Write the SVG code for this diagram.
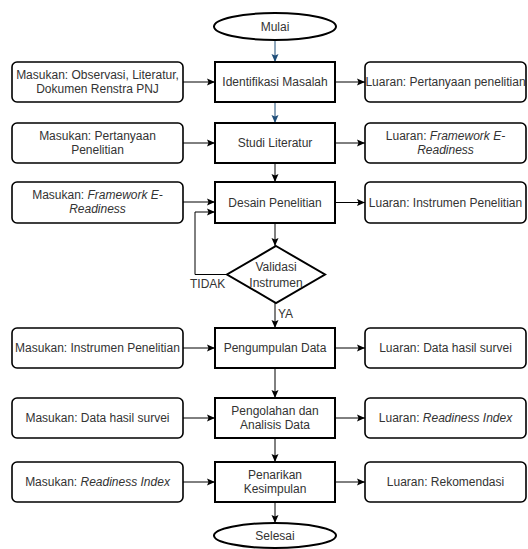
<svg xmlns="http://www.w3.org/2000/svg" width="528" height="549" viewBox="0 0 528 549">
<style>
text{font-family:"Liberation Sans",Arial,sans-serif;font-size:12px;fill:#333;text-anchor:middle}
.it{font-style:italic}
.proc{fill:#fff;stroke:#000;stroke-width:2}
.io{fill:#fff;stroke:#000;stroke-width:1.6}
.term{fill:#fff;stroke:#000;stroke-width:2}
.c{fill:none;stroke:#000;stroke-width:1}
.cb{fill:none;stroke:#1f4e79;stroke-width:1}
.lbl{text-anchor:start}
</style>
<defs>
<marker id="a" markerUnits="userSpaceOnUse" markerWidth="8" markerHeight="8" viewBox="0 0 8 8" refX="8" refY="4" orient="auto"><path d="M0,0.5 L8,4 L0,7.5 L1.5,4 Z" fill="#000"/></marker>
<marker id="ab" markerUnits="userSpaceOnUse" markerWidth="8" markerHeight="8" viewBox="0 0 8 8" refX="8" refY="4" orient="auto"><path d="M0,0.5 L8,4 L0,7.5 L1.5,4 Z" fill="#1f4e79"/></marker>
</defs>
<g id="connectors">
<path class="cb" d="M275,40 V62" marker-end="url(#ab)"/>
<path class="cb" d="M275,102 V123" marker-end="url(#ab)"/>
<path class="c" d="M275,163 V182" marker-end="url(#a)"/>
<path class="c" d="M275,223 V246" marker-end="url(#a)"/>
<path class="c" d="M275,303 V328" marker-end="url(#a)"/>
<path class="c" d="M275,368 V398" marker-end="url(#a)"/>
<path class="c" d="M275,438 V462" marker-end="url(#a)"/>
<path class="c" d="M275,502 V523" marker-end="url(#a)"/>
<path class="c" d="M227,274.5 H195 V212 H215" marker-end="url(#a)"/>
<path class="c" d="M183,82 H215" marker-end="url(#a)"/>
<path class="c" d="M335,82 H365" marker-end="url(#a)"/>
<path class="c" d="M183,143 H215" marker-end="url(#a)"/>
<path class="c" d="M335,143 H365" marker-end="url(#a)"/>
<path class="c" d="M183,202 H215" marker-end="url(#a)"/>
<path class="c" d="M335,202.5 H365" marker-end="url(#a)"/>
<path class="c" d="M183,348 H215" marker-end="url(#a)"/>
<path class="c" d="M335,348 H365" marker-end="url(#a)"/>
<path class="c" d="M183,418 H215" marker-end="url(#a)"/>
<path class="c" d="M335,418 H365" marker-end="url(#a)"/>
<path class="c" d="M183,482 H215" marker-end="url(#a)"/>
<path class="c" d="M335,482 H365" marker-end="url(#a)"/>
<text class="lbl" x="190" y="288">TIDAK</text>
<text class="lbl" x="278" y="318">YA</text>
</g>
<g id="mulai"><ellipse class="term" cx="275" cy="26.5" rx="61" ry="13.5"/><text x="275" y="31">Mulai</text></g>
<g id="identifikasi"><rect class="proc" x="215" y="62" width="120" height="40"/><text x="275" y="86">Identifikasi Masalah</text></g>
<g id="in1"><rect class="io" x="12" y="62" width="171" height="40" rx="5"/><text x="97.5" y="79">Masukan: Observasi, Literatur,</text><text x="97.5" y="93">Dokumen Renstra PNJ</text></g>
<g id="out1"><rect class="io" x="365" y="62" width="161" height="40" rx="5"/><text x="445.5" y="86">Luaran: Pertanyaan penelitian</text></g>
<g id="studi"><rect class="proc" x="215" y="123" width="120" height="40"/><text x="275" y="147">Studi Literatur</text></g>
<g id="in2"><rect class="io" x="12" y="123" width="171" height="40" rx="5"/><text x="97.5" y="140">Masukan: Pertanyaan</text><text x="97.5" y="154">Penelitian</text></g>
<g id="out2"><rect class="io" x="365" y="123" width="161" height="40" rx="5"/><text x="445.5" y="140">Luaran: <tspan class="it">Framework E-</tspan></text><text class="it" x="445.5" y="154">Readiness</text></g>
<g id="desain"><rect class="proc" x="215" y="182" width="120" height="41"/><text x="275" y="207">Desain Penelitian</text></g>
<g id="in3"><rect class="io" x="12" y="182" width="171" height="41" rx="5"/><text x="97.5" y="199">Masukan: <tspan class="it">Framework E-</tspan></text><text class="it" x="97.5" y="213">Readiness</text></g>
<g id="out3"><rect class="io" x="365" y="182" width="161" height="41" rx="5"/><text x="445.5" y="207">Luaran: Instrumen Penelitian</text></g>
<g id="validasi"><path class="proc" d="M276,246 L325,274.5 L276,303 L227,274.5 Z"/><text x="276" y="271">Validasi</text><text x="276" y="287">Instrumen</text></g>
<g id="pengumpulan"><rect class="proc" x="215" y="328" width="120" height="40"/><text x="275" y="352">Pengumpulan Data</text></g>
<g id="in4"><rect class="io" x="12" y="328" width="171" height="40" rx="5"/><text x="97.5" y="352">Masukan: Instrumen Penelitian</text></g>
<g id="out4"><rect class="io" x="365" y="328" width="161" height="40" rx="5"/><text x="445.5" y="352">Luaran: Data hasil survei</text></g>
<g id="pengolahan"><rect class="proc" x="215" y="398" width="120" height="40"/><text x="275" y="415">Pengolahan dan</text><text x="275" y="429">Analisis Data</text></g>
<g id="in5"><rect class="io" x="12" y="398" width="171" height="40" rx="5"/><text x="97.5" y="422">Masukan: Data hasil survei</text></g>
<g id="out5"><rect class="io" x="365" y="398" width="161" height="40" rx="5"/><text x="445.5" y="422">Luaran: <tspan class="it">Readiness Index</tspan></text></g>
<g id="penarikan"><rect class="proc" x="215" y="462" width="120" height="40"/><text x="275" y="479">Penarikan</text><text x="275" y="493">Kesimpulan</text></g>
<g id="in6"><rect class="io" x="12" y="462" width="171" height="40" rx="5"/><text x="97.5" y="486">Masukan: <tspan class="it">Readiness Index</tspan></text></g>
<g id="out6"><rect class="io" x="365" y="462" width="161" height="40" rx="5"/><text x="445.5" y="486">Luaran: Rekomendasi</text></g>
<g id="selesai"><ellipse class="term" cx="275" cy="535.5" rx="61" ry="12.5"/><text x="275" y="540">Selesai</text></g>
</svg>
